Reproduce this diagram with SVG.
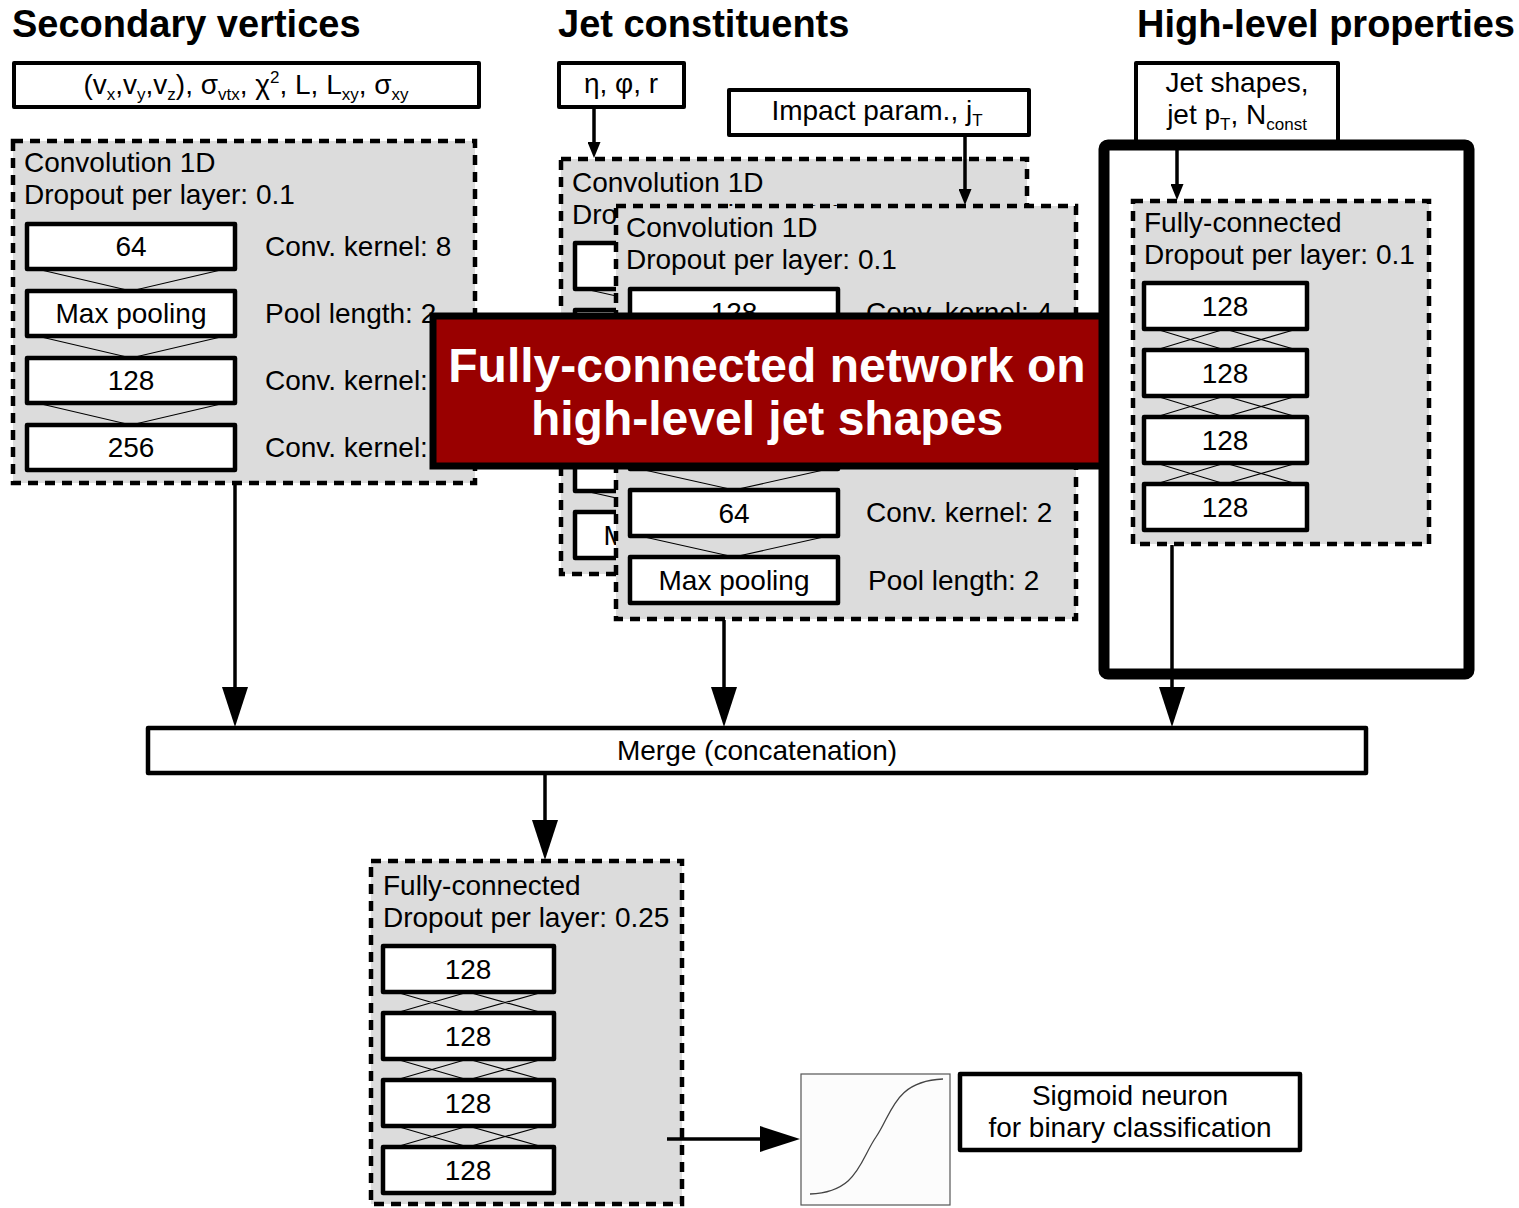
<svg xmlns="http://www.w3.org/2000/svg" width="1519" height="1208" viewBox="0 0 1519 1208">
<defs>
<style>
text{font-family:"Liberation Sans",Arial,sans-serif;fill:#000}
.h{font-size:38px;font-weight:bold}
.t{font-size:28px}
.c{text-anchor:middle}
.s{font-size:17px}
.box{fill:#fff;stroke:#000;stroke-width:4.5;stroke-linejoin:round}
.in{fill:#fff;stroke:#000;stroke-width:4;stroke-linejoin:round}
.panel{fill:#dcdcdc;stroke:#000;stroke-width:4.5;stroke-dasharray:10 7}
.wire{fill:none;stroke:#000;stroke-width:1.2}
.arrow{fill:none;stroke:#000;stroke-width:3.5}
.banner{fill:#990000;stroke:#000;stroke-width:7}
.bt{font-size:48px;font-weight:bold;fill:#fff;text-anchor:middle}
</style>
<marker id="big" markerUnits="userSpaceOnUse" markerWidth="40" markerHeight="26" refX="30" refY="13" orient="auto"><path d="M0,0 L40,13 L0,26 Z"/></marker>
<marker id="small" markerUnits="userSpaceOnUse" markerWidth="16" markerHeight="13" refX="10" refY="6.5" orient="auto"><path d="M0,0 L16,6.5 L0,13 Z"/></marker>
</defs>
<rect width="1519" height="1208" fill="#fff"/>

<!-- column headings -->
<g id="headings">
<text class="h" x="12" y="37">Secondary vertices</text>
<text class="h" x="558" y="37">Jet constituents</text>
<text class="h" x="1137" y="37">High-level properties</text>
</g>

<!-- input feature boxes -->
<g id="in-sv">
<rect class="in" x="14" y="63" width="465" height="44"/>
<text class="t c" x="246" y="94">(v<tspan class="s" dy="6">x</tspan><tspan dy="-6">,v</tspan><tspan class="s" dy="6">y</tspan><tspan dy="-6">,v</tspan><tspan class="s" dy="6">z</tspan><tspan dy="-6">), σ</tspan><tspan class="s" dy="6">vtx</tspan><tspan dy="-6">, χ</tspan><tspan class="s" dy="-11">2</tspan><tspan dy="11">, L, L</tspan><tspan class="s" dy="6">xy</tspan><tspan dy="-6">, σ</tspan><tspan class="s" dy="6">xy</tspan></text>
</g>
<g id="in-eta">
<rect class="in" x="559" y="63" width="125" height="44"/>
<text class="t c" x="621" y="93">η, φ, r</text>
</g>
<g id="in-impact">
<rect class="in" x="729" y="90" width="300" height="45"/>
<text class="t c" x="877" y="120">Impact param., j<tspan class="s" dy="6">T</tspan></text>
</g>

<!-- secondary-vertex convolution stack -->
<g id="conv-sv">
<rect class="panel" x="13" y="141" width="462" height="342"/>
<text class="t" x="24" y="172">Convolution 1D</text>
<text class="t" x="24" y="204">Dropout per layer: 0.1</text>
<path class="wire" d="M37,269 L131,291 L225,269 M37,336 L131,358 L225,336 M37,403 L131,425 L225,403"/>
<rect class="box" x="27" y="224" width="208" height="45"/>
<text class="t c" x="131" y="256">64</text>
<rect class="box" x="27" y="291" width="208" height="45"/>
<text class="t c" x="131" y="323">Max pooling</text>
<rect class="box" x="27" y="358" width="208" height="45"/>
<text class="t c" x="131" y="390">128</text>
<rect class="box" x="27" y="425" width="208" height="45"/>
<text class="t c" x="131" y="457">256</text>
<text class="t" x="265" y="256">Conv. kernel: 8</text>
<text class="t" x="265" y="323">Pool length: 2</text>
<text class="t" x="265" y="390">Conv. kernel: 4</text>
<text class="t" x="265" y="457">Conv. kernel: 2</text>
</g>

<!-- constituent convolution stack (rear copy) -->
<g id="conv-jc-back">
<rect class="panel" x="561" y="159" width="466" height="415"/>
<text class="t" x="572" y="192">Convolution 1D</text>
<text class="t" x="572" y="224">Dropout per layer: 0.1</text>
<path class="wire" d="M585,289 L679,310 L774,289 M585,356 L679,377 L774,356 M585,423 L679,445 L774,423 M585,491 L679,512 L774,491"/>
<rect class="box" x="575" y="243" width="209" height="46"/>
<rect class="box" x="575" y="310" width="209" height="46"/>
<rect class="box" x="575" y="377" width="209" height="46"/>
<rect class="box" x="575" y="445" width="209" height="46"/>
<rect class="box" x="575" y="512" width="209" height="46"/>
<text class="t c" x="679" y="545">Max pooling</text>
</g>

<!-- constituent convolution stack (front copy) -->
<g id="conv-jc">
<rect class="panel" x="616" y="206" width="460" height="413"/>
<text class="t" x="626" y="237">Convolution 1D</text>
<text class="t" x="626" y="269">Dropout per layer: 0.1</text>
<path class="wire" d="M640,335 L734,356 L828,335 M640,402 L734,423 L828,402 M640,469 L734,490 L828,469 M640,536 L734,557 L828,536"/>
<rect class="box" x="630" y="289" width="208" height="46"/>
<text class="t c" x="734" y="322">128</text>
<rect class="box" x="630" y="356" width="208" height="46"/>
<rect class="box" x="630" y="423" width="208" height="46"/>
<rect class="box" x="630" y="490" width="208" height="46"/>
<text class="t c" x="734" y="523">64</text>
<rect class="box" x="630" y="557" width="208" height="46"/>
<text class="t c" x="734" y="590">Max pooling</text>
<text class="t" x="866" y="322">Conv. kernel: 4</text>
<text class="t" x="866" y="522">Conv. kernel: 2</text>
<text class="t" x="868" y="590">Pool length: 2</text>
</g>

<!-- high-level inputs and dense stack -->
<g id="in-hl">
<rect class="in" x="1136" y="63" width="202" height="85"/>
<text class="t c" x="1237" y="92">Jet shapes,</text>
<text class="t c" x="1237" y="124">jet p<tspan class="s" dy="6">T</tspan><tspan dy="-6">, N</tspan><tspan class="s" dy="6">const</tspan></text>
</g>
<g id="fc-hl">
<rect class="panel" x="1133" y="201" width="296" height="343"/>
<text class="t" x="1144" y="232">Fully-connected</text>
<text class="t" x="1144" y="264">Dropout per layer: 0.1</text>
<path class="wire" d="M1156,329 L1225,350 M1225,329 L1156,350 M1225,329 L1297,350 M1297,329 L1225,350 M1156,396 L1225,417 M1225,396 L1156,417 M1225,396 L1297,417 M1297,396 L1225,417 M1156,463 L1225,484 M1225,463 L1156,484 M1225,463 L1297,484 M1297,463 L1225,484"/>
<rect class="box" x="1144" y="283" width="163" height="46"/>
<text class="t c" x="1225" y="316">128</text>
<rect class="box" x="1144" y="350" width="163" height="46"/>
<text class="t c" x="1225" y="383">128</text>
<rect class="box" x="1144" y="417" width="163" height="46"/>
<text class="t c" x="1225" y="450">128</text>
<rect class="box" x="1144" y="484" width="163" height="46"/>
<text class="t c" x="1225" y="517">128</text>
</g>
<g id="hl-frame">
<rect x="1104" y="145" width="365" height="529" rx="4" fill="none" stroke="#000" stroke-width="11"/>
</g>

<!-- highlight banner -->
<g id="banner">
<rect class="banner" x="433" y="316" width="669" height="150"/>
<text class="bt" x="767" y="382">Fully-connected network on</text>
<text class="bt" x="767" y="435">high-level jet shapes</text>
</g>

<!-- merge layer -->
<g id="merge">
<rect class="box" x="148" y="728" width="1218" height="45"/>
<text class="t c" x="757" y="760">Merge (concatenation)</text>
</g>

<!-- final dense stack -->
<g id="fc-out">
<rect class="panel" x="371" y="861" width="311" height="343"/>
<text class="t" x="383" y="895">Fully-connected</text>
<text class="t" x="383" y="927">Dropout per layer: 0.25</text>
<path class="wire" d="M396,992 L468,1013 M468,992 L396,1013 M468,992 L543,1013 M543,992 L468,1013 M396,1059 L468,1080 M468,1059 L396,1080 M468,1059 L543,1080 M543,1059 L468,1080 M396,1126 L468,1147 M468,1126 L396,1147 M468,1126 L543,1147 M543,1126 L468,1147"/>
<rect class="box" x="383" y="946" width="171" height="46"/>
<text class="t c" x="468" y="979">128</text>
<rect class="box" x="383" y="1013" width="171" height="46"/>
<text class="t c" x="468" y="1046">128</text>
<rect class="box" x="383" y="1080" width="171" height="46"/>
<text class="t c" x="468" y="1113">128</text>
<rect class="box" x="383" y="1147" width="171" height="46"/>
<text class="t c" x="468" y="1180">128</text>
</g>

<!-- sigmoid output -->
<g id="sigmoid">
<rect x="801" y="1074" width="149" height="131" fill="#fcfcfc" stroke="#555" stroke-width="1.2"/>
<path d="M810,1194 C858,1192 860,1160 876,1137 S894,1081 943,1079" fill="none" stroke="#444" stroke-width="1.3"/>
</g>
<g id="sigmoid-label">
<rect class="box" x="960" y="1074" width="340" height="76"/>
<text class="t c" x="1130" y="1105">Sigmoid neuron</text>
<text class="t c" x="1130" y="1137">for binary classification</text>
</g>

<!-- data flow -->
<g id="connectors">
<path class="arrow" d="M594,108 V152" marker-end="url(#small)"/>
<path class="arrow" d="M965,136 V199" marker-end="url(#small)"/>
<path class="arrow" d="M1177,150 V194" marker-end="url(#small)"/>
<path class="arrow" d="M235,484 V717" marker-end="url(#big)"/>
<path class="arrow" d="M724,620 V717" marker-end="url(#big)"/>
<path class="arrow" d="M1172,545 V717" marker-end="url(#big)"/>
<path class="arrow" d="M545,773 V850" marker-end="url(#big)"/>
<path class="arrow" d="M667,1139 H790" marker-end="url(#big)"/>
</g>
</svg>
